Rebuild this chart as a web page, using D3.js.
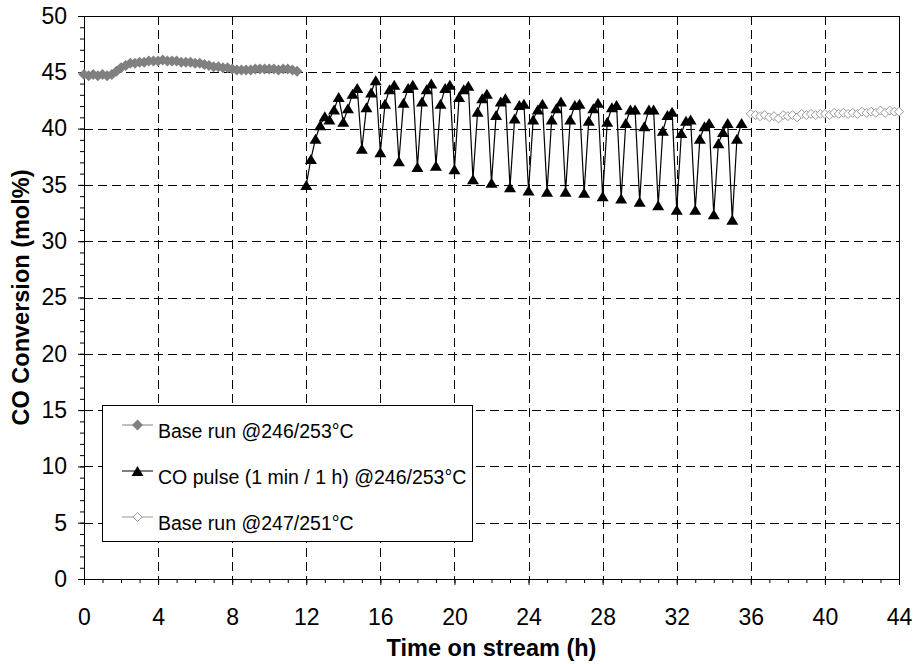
<!DOCTYPE html>
<html>
<head>
<meta charset="utf-8">
<script src="https://cdn.jsdelivr.net/npm/d3@7"></script>
<style>
  body { margin: 0; background: #fff; }
  text { font-family: "Liberation Sans", Arial, sans-serif; fill: #000; }
</style>
</head>
<body>
<svg id="chart" width="914" height="664"></svg>
<script>
// Axis ticks
const xTicks = [0, 4, 8, 12, 16, 20, 24, 28, 32, 36, 40, 44];
const yTicks = [0, 5, 10, 15, 20, 25, 30, 35, 40, 45, 50];

// Series labels
const seriesNames = [
  "Base run @246/253°C",
  "CO pulse (1 min / 1 h) @246/253°C",
  "Base run @247/251°C"
];

// Base run @246/253°C — time on stream (h) and CO conversion (mol%)
const baseATime = [0,0.25,0.5,0.75,1,1.25,1.5,1.75,2,2.25,2.5,2.75,3,3.25,3.5,3.75,4,4.25,4.5,4.75,
  5,5.25,5.5,5.75,6,6.25,6.5,6.75,7,7.25,7.5,7.75,8,8.25,8.5,8.75,9,9.25,9.5,9.75,
  10,10.25,10.5,10.75,11,11.25,11.5];
const baseAConv = [44.8,44.7,44.8,44.7,44.8,44.7,44.8,45.1,45.4,45.6,45.8,45.8,45.9,45.9,46.0,46.0,46.0,46.1,46.0,46.0,
  46.0,45.9,45.9,45.9,45.8,45.8,45.7,45.6,45.5,45.5,45.4,45.4,45.3,45.2,45.2,45.2,45.2,45.3,45.3,45.3,
  45.3,45.3,45.2,45.3,45.3,45.2,45.1];

// CO pulse (1 min / 1 h) @246/253°C
const pulseTime = [12,12.25,12.5,12.75,13,13.25,13.5,13.75,14,14.25,14.5,14.75,15,15.25,15.5,15.75,
  16,16.25,16.5,16.75,17,17.25,17.5,17.75,18,18.25,18.5,18.75,19,19.25,19.5,19.75,
  20,20.25,20.5,20.75,21,21.25,21.5,21.75,22,22.25,22.5,22.75,23,23.25,23.5,23.75,
  24,24.25,24.5,24.75,25,25.25,25.5,25.75,26,26.25,26.5,26.75,27,27.25,27.5,27.75,
  28,28.25,28.5,28.75,29,29.25,29.5,29.75,30,30.25,30.5,30.75,31,31.25,31.5,31.75,
  32,32.25,32.5,32.75,33,33.25,33.5,33.75,34,34.25,34.5,34.75,35,35.25,35.5];
const pulseConv = [35.0,37.3,39.1,40.3,41.1,40.8,41.7,42.8,40.6,41.8,43.1,43.6,38.2,41.9,43.2,44.3,
  37.9,42.2,43.5,43.9,37.1,42.3,43.6,43.9,36.6,42.4,43.5,44.0,36.7,42.2,43.6,43.9,
  36.4,42.8,43.5,43.8,35.5,41.5,42.7,43.1,35.2,41.2,42.4,42.7,34.8,40.9,42.1,42.2,
  34.5,40.8,41.7,42.2,34.4,40.8,41.8,42.4,34.4,40.8,42.1,42.2,34.3,40.7,41.8,42.3,
  34.0,40.6,41.9,42.1,33.8,40.5,41.7,41.7,33.5,40.2,41.7,41.7,33.2,39.8,41.2,41.5,
  32.8,39.6,40.7,40.8,32.8,39.1,40.2,40.5,32.4,38.7,39.7,40.5,31.9,39.1,40.5];

// Base run @247/251°C
const baseBTime = [36,36.25,36.5,36.75,37,37.25,37.5,37.75,38,38.25,38.5,38.75,39,39.25,39.5,39.75,
  40,40.25,40.5,40.75,41,41.25,41.5,41.75,42,42.25,42.5,42.75,43,43.25,43.5,43.75,44];
const baseBConv = [41.3,41.2,41.1,41.2,41.0,41.1,40.9,41.2,41.1,41.2,41.0,41.3,41.2,41.3,41.2,41.3,
  41.3,41.2,41.4,41.3,41.4,41.3,41.4,41.3,41.5,41.4,41.5,41.4,41.6,41.4,41.6,41.5,41.5];

const svg = d3.select("#chart");
const W = 914, H = 664;
const plot = { left: 84, right: 899, top: 16, bottom: 579 };
const font = '"Liberation Sans", Arial, sans-serif';

const x = d3.scaleLinear().domain([0, 44]).range([plot.left, plot.right]);
const y = d3.scaleLinear().domain([0, 50]).range([plot.bottom, plot.top]);

svg.append("rect").attr("width", W).attr("height", H).attr("fill", "#fff");

// Dashed grid
const grid = svg.append("g").attr("stroke", "#000").attr("stroke-width", 1)
  .attr("stroke-dasharray", "9,5").attr("shape-rendering", "crispEdges");
grid.selectAll("line.v").data(xTicks.filter(d => d > 0 && d < 44)).join("line")
  .attr("x1", d => Math.round(x(d)) + 0.5).attr("x2", d => Math.round(x(d)) + 0.5)
  .attr("y1", plot.top).attr("y2", plot.bottom);
grid.selectAll("line.h").data(yTicks.filter(d => d > 0 && d < 50)).join("line")
  .attr("x1", plot.left).attr("x2", plot.right)
  .attr("y1", d => Math.round(y(d)) + 0.5).attr("y2", d => Math.round(y(d)) + 0.5);

// Plot frame (top and right)
svg.append("path")
  .attr("d", `M${plot.left},${plot.top + 0.5}H${plot.right + 0.5}V${plot.bottom}`)
  .attr("fill", "none").attr("stroke", "#000").attr("stroke-width", 1)
  .attr("shape-rendering", "crispEdges");

// Minor ticks, one per hour and one per mol%
const minorX = d3.range(0, 45, 1);
const minorY = d3.range(0, 51, 1);
svg.append("g").attr("transform", `translate(0,${plot.bottom})`)
  .call(d3.axisBottom(x).tickValues(minorX).tickSize(4).tickFormat(""))
  .call(g => g.select(".domain").remove());
svg.append("g").attr("transform", `translate(${plot.left},0)`)
  .call(d3.axisLeft(y).tickValues(minorY).tickSize(4).tickFormat(""))
  .call(g => g.select(".domain").remove());

// Major axes
const xAxis = svg.append("g").attr("transform", `translate(0,${plot.bottom})`)
  .call(d3.axisBottom(x).tickValues(xTicks).tickSize(6).tickSizeOuter(0).tickPadding(24).tickFormat(d3.format("d")));
const yAxis = svg.append("g").attr("transform", `translate(${plot.left},0)`)
  .call(d3.axisLeft(y).tickValues(yTicks).tickSize(6).tickSizeOuter(0).tickPadding(11).tickFormat(d3.format("d")));
[xAxis, yAxis].forEach(a => {
  a.selectAll("path, line").attr("stroke", "#000").attr("stroke-width", 1);
  a.selectAll("text").style("font-size", "23px").style("font-family", font).attr("fill", "#000");
});

// Axis titles
svg.append("text").attr("x", (plot.left + plot.right) / 2).attr("y", 656)
  .attr("text-anchor", "middle").style("font-size", "23.5px").style("font-weight", "bold")
  .text("Time on stream (h)");
svg.append("text").attr("transform", `translate(29,${(plot.top + plot.bottom) / 2}) rotate(-90)`)
  .attr("text-anchor", "middle").style("font-size", "23.5px").style("font-weight", "bold")
  .text("CO Conversion (mol%)");

// Marker shapes
const diamond = s => `M0,${-s}L${s},0L0,${s}L${-s},0Z`;
const triangle = (w, h) => `M0,${-h / 2}L${w / 2},${h / 2}L${-w / 2},${h / 2}Z`;

const line = d3.line().x(d => x(d[0])).y(d => y(d[1]));

const baseA = d3.zip(baseATime, baseAConv);
const pulse = d3.zip(pulseTime, pulseConv);
const baseB = d3.zip(baseBTime, baseBConv);

// Base run @246/253°C
svg.append("path").datum(baseA).attr("d", line)
  .attr("fill", "none").attr("stroke", "#808080").attr("stroke-width", 1);
svg.append("g").selectAll("path").data(baseA).join("path")
  .attr("transform", d => `translate(${x(d[0])},${y(d[1])})`)
  .attr("d", diamond(5.5)).attr("fill", "#808080");

// CO pulse
svg.append("path").datum(pulse).attr("d", line)
  .attr("fill", "none").attr("stroke", "#000").attr("stroke-width", 1.2);
svg.append("g").selectAll("path").data(pulse).join("path")
  .attr("transform", d => `translate(${x(d[0])},${y(d[1])})`)
  .attr("d", triangle(12, 10)).attr("fill", "#000");

// Base run @247/251°C
svg.append("path").datum(baseB).attr("d", line)
  .attr("fill", "none").attr("stroke", "#999").attr("stroke-width", 1);
svg.append("g").selectAll("path").data(baseB).join("path")
  .attr("transform", d => `translate(${x(d[0])},${y(d[1])})`)
  .attr("d", diamond(4.5)).attr("fill", "#fff").attr("stroke", "#999").attr("stroke-width", 1);

// Legend
const legend = svg.append("g");
legend.append("rect").attr("x", 102.5).attr("y", 405.5).attr("width", 370).attr("height", 136)
  .attr("fill", "#fff").attr("stroke", "#000").attr("stroke-width", 1);
const legendBaseline = [438, 484, 530];
const legendStyle = [
  { stroke: "#808080", marker: diamond(5.5), fill: "#808080", mstroke: "none" },
  { stroke: "#000", marker: triangle(12, 10), fill: "#000", mstroke: "none" },
  { stroke: "#999", marker: diamond(4.5), fill: "#fff", mstroke: "#999" }
];
seriesNames.forEach((name, i) => {
  const g = legend.append("g").attr("transform", `translate(0,${legendBaseline[i]})`);
  g.append("line").attr("x1", 122).attr("x2", 153).attr("y1", -13).attr("y2", -13)
    .attr("stroke", legendStyle[i].stroke).attr("stroke-width", 1);
  g.append("path").attr("transform", "translate(137.5,-13)").attr("d", legendStyle[i].marker)
    .attr("fill", legendStyle[i].fill).attr("stroke", legendStyle[i].mstroke);
  g.append("text").attr("x", 158).attr("y", 0).style("font-size", "19.5px").text(name);
});
</script>
</body>
</html>
